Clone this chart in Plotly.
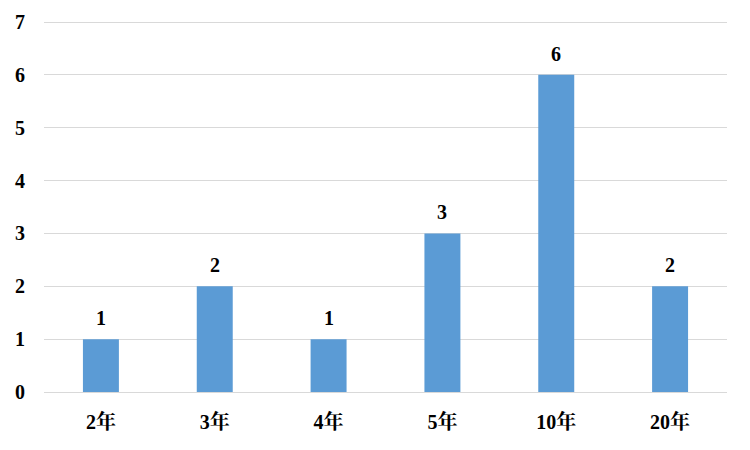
import plotly.graph_objects as go

categories = ["2年", "3年", "4年", "5年", "10年", "20年"]
values = [1, 2, 1, 3, 6, 2]
y_ticks = [0, 1, 2, 3, 4, 5, 6, 7]

FONT = "Times New Roman, Liberation Serif, Noto Serif CJK SC, Noto Sans CJK SC, serif"
TXT = dict(family=FONT, size=20, color="#000000", weight="bold")

fig = go.Figure(
    go.Bar(
        x=categories,
        y=values,
        marker=dict(color="#5B9BD5", line=dict(width=0)),
        hoverinfo="x+y",
    )
)

for c, v in zip(categories, values):
    fig.add_annotation(
        x=c, y=v, text=f"<b>{v}</b>", showarrow=False,
        yanchor="bottom", yshift=8, font=TXT,
    )

# page has an 8px body margin, so margins are compensated
fig.update_layout(
    width=750,
    height=450,
    margin=dict(l=36, r=31, t=12, b=66),
    plot_bgcolor="white",
    paper_bgcolor="white",
    bargap=0.684,
    showlegend=False,
    font=TXT,
)
fig.update_xaxes(
    showgrid=False,
    showline=False,
    ticks="",
    automargin=False,
    ticklabelstandoff=16,
    tickfont=TXT,
)
fig.update_yaxes(
    range=[0, 7.038],
    tickvals=y_ticks,
    showgrid=True,
    gridcolor="#D9D9D9",
    gridwidth=1,
    zeroline=True,
    zerolinecolor="#D9D9D9",
    zerolinewidth=1,
    showline=False,
    ticks="",
    automargin=False,
    ticklabelstandoff=18,
    tickfont=TXT,
)

fig.write_html("out.html")
